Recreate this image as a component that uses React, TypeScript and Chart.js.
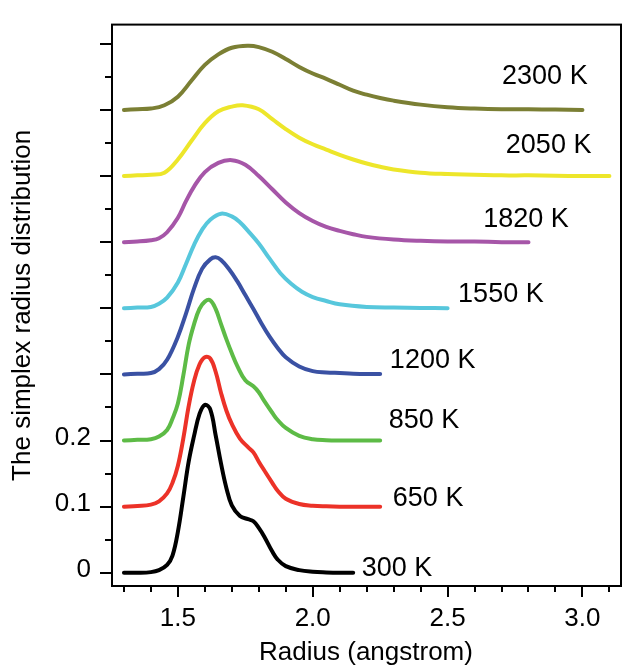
import React, { useEffect, useRef } from 'react';
import { Chart, registerables } from 'chart.js';

Chart.register(...registerables);

// ---- Data ----
const seriesNames = ['300 K', '650 K', '850 K', '1200 K', '1550 K', '1820 K', '2050 K', '2300 K'];

const r300 = [1.3, 1.35, 1.4, 1.43, 1.46, 1.48, 1.5, 1.52, 1.54, 1.56, 1.58, 1.6, 1.62, 1.64, 1.66, 1.68, 1.7, 1.73, 1.76, 1.78, 1.8, 1.82, 1.85, 1.87, 1.9, 1.95, 2.0, 2.05, 2.1, 2.15];
const d300 = [0, 0, 0.001, 0.004, 0.012, 0.026, 0.062, 0.114, 0.168, 0.207, 0.24, 0.254, 0.247, 0.208, 0.165, 0.128, 0.102, 0.086, 0.081, 0.078, 0.068, 0.055, 0.032, 0.02, 0.01, 0.004, 0.0015, 0.0005, 0, 0];

const r650 = [1.3, 1.35, 1.4, 1.43, 1.46, 1.48, 1.5, 1.52, 1.54, 1.56, 1.58, 1.6, 1.62, 1.64, 1.66, 1.68, 1.7, 1.73, 1.76, 1.78, 1.8, 1.82, 1.85, 1.87, 1.9, 1.95, 2.0, 2.05, 2.1, 2.15, 2.2, 2.25];
const d650 = [0, 0.001, 0.003, 0.008, 0.02, 0.036, 0.062, 0.103, 0.152, 0.19, 0.215, 0.226, 0.224, 0.204, 0.172, 0.145, 0.125, 0.103, 0.09, 0.082, 0.068, 0.055, 0.036, 0.024, 0.012, 0.004, 0.0015, 0.0005, 0, 0, 0, 0];

const r850 = [1.3, 1.35, 1.4, 1.43, 1.46, 1.48, 1.5, 1.52, 1.54, 1.56, 1.58, 1.6, 1.62, 1.64, 1.66, 1.68, 1.7, 1.72, 1.75, 1.78, 1.8, 1.82, 1.85, 1.87, 1.9, 1.95, 2.0, 2.05, 2.1, 2.15, 2.2, 2.25];
const d850 = [0, 0.001, 0.002, 0.006, 0.016, 0.033, 0.056, 0.098, 0.145, 0.176, 0.199, 0.21, 0.212, 0.199, 0.176, 0.153, 0.132, 0.113, 0.091, 0.082, 0.073, 0.06, 0.042, 0.031, 0.019, 0.007, 0.002, 0.0005, 0, 0, 0, 0];

const r1200 = [1.3, 1.35, 1.4, 1.43, 1.46, 1.5, 1.53, 1.56, 1.59, 1.62, 1.64, 1.66, 1.69, 1.72, 1.75, 1.78, 1.81, 1.84, 1.87, 1.9, 1.95, 2.0, 2.05, 2.1, 2.15, 2.2, 2.25];
const d1200 = [0, 0.001, 0.002, 0.008, 0.022, 0.057, 0.092, 0.13, 0.16, 0.174, 0.177, 0.173, 0.159, 0.141, 0.12, 0.099, 0.077, 0.057, 0.04, 0.026, 0.012, 0.005, 0.003, 0.002, 0.001, 0.0005, 0.0005];

const r1550 = [1.3, 1.35, 1.4, 1.43, 1.46, 1.5, 1.53, 1.56, 1.59, 1.62, 1.66, 1.7, 1.73, 1.76, 1.8, 1.84, 1.88, 1.92, 1.96, 2.0, 2.05, 2.1, 2.2, 2.3, 2.4, 2.5];
const d1550 = [0, 0.001, 0.002, 0.007, 0.016, 0.039, 0.067, 0.096, 0.119, 0.134, 0.143, 0.139, 0.13, 0.117, 0.098, 0.075, 0.053, 0.037, 0.025, 0.017, 0.011, 0.006, 0.002, 0.001, 0.0005, 0];

const r1820 = [1.3, 1.35, 1.4, 1.43, 1.46, 1.5, 1.53, 1.56, 1.6, 1.65, 1.7, 1.75, 1.8, 1.85, 1.9, 1.95, 2.0, 2.05, 2.1, 2.15, 2.2, 2.3, 2.4, 2.5, 2.6, 2.7, 2.8];
const d1820 = [0, 0.001, 0.003, 0.006, 0.015, 0.037, 0.062, 0.084, 0.106, 0.12, 0.124, 0.117, 0.1, 0.08, 0.06, 0.044, 0.032, 0.023, 0.017, 0.012, 0.008, 0.004, 0.002, 0.001, 0.001, 0, 0];

const r2050 = [1.3, 1.35, 1.4, 1.45, 1.5, 1.55, 1.6, 1.65, 1.7, 1.74, 1.8, 1.85, 1.9, 1.95, 2.0, 2.05, 2.1, 2.15, 2.2, 2.25, 2.3, 2.4, 2.5, 2.6, 2.7, 2.8, 2.9, 3.0, 3.1];
const d2050 = [0, 0.001, 0.002, 0.005, 0.025, 0.053, 0.08, 0.098, 0.105, 0.107, 0.101, 0.086, 0.071, 0.058, 0.048, 0.04, 0.032, 0.025, 0.019, 0.014, 0.01, 0.005, 0.003, 0.002, 0.001, 0.001, 0.0005, 0, 0];

const r2300 = [1.3, 1.35, 1.4, 1.45, 1.5, 1.55, 1.6, 1.65, 1.7, 1.76, 1.8, 1.85, 1.9, 1.95, 2.0, 2.05, 2.1, 2.15, 2.2, 2.25, 2.3, 2.4, 2.5, 2.6, 2.7, 2.8, 2.9, 3.0];
const d2300 = [0, 0.001, 0.002, 0.007, 0.02, 0.044, 0.068, 0.084, 0.094, 0.097, 0.095, 0.088, 0.077, 0.065, 0.055, 0.047, 0.038, 0.029, 0.023, 0.018, 0.014, 0.008, 0.004, 0.002, 0.001, 0.001, 0.0005, 0];

const radii = [r300, r650, r850, r1200, r1550, r1820, r2050, r2300];
const dists = [d300, d650, d850, d1200, d1550, d1820, d2050, d2300];
const offsetStep = 0.1; // vertical offset between stacked curves

const yLabeledTicks = [0, 0.1, 0.2];
const xLabeledTicks = [1.5, 2.0, 2.5, 3.0];

// ---- Styles / layout ----
const colors = ['#000000', '#ec3228', '#5dbb46', '#3a51a3', '#57c7dc', '#a656a8', '#ede62a', '#7b7f34'];
const labelPos = [
  [2.182, 0.006],
  [2.297, 0.113],
  [2.282, 0.23],
  [2.286, 0.321],
  [2.539, 0.421],
  [2.632, 0.534],
  [2.716, 0.646],
  [2.702, 0.75],
];
const FONT = '"Liberation Sans", Arial, Helvetica, sans-serif';

const framePlugin = {
  id: 'frameAndTicks',
  afterDraw(chart: any) {
    const { ctx, chartArea: a, scales } = chart;
    const x = scales.x;
    const y = scales.y;
    ctx.save();
    ctx.strokeStyle = '#000';
    ctx.lineWidth = 2;
    ctx.strokeRect(a.left + 1, a.top, a.right - a.left - 1, a.bottom - a.top);
    ctx.beginPath();
    y.ticks.forEach((t: any) => {
      const v = Math.round(t.value * 100);
      const major = v % 10 === 0;
      const py = Math.round(y.getPixelForValue(t.value));
      ctx.moveTo(a.left - (major ? 11 : 6), py);
      ctx.lineTo(a.left, py);
    });
    x.ticks.forEach((t: any) => {
      const v = Math.round(t.value * 10);
      const major = v % 5 === 0;
      const px = Math.round(x.getPixelForValue(t.value));
      ctx.moveTo(px, a.bottom);
      ctx.lineTo(px, a.bottom + (major ? 11 : 6));
    });
    ctx.stroke();
    ctx.font = `27px ${FONT}`;
    ctx.fillStyle = '#000';
    ctx.textAlign = 'left';
    ctx.textBaseline = 'middle';
    seriesNames.forEach((name, i) => {
      ctx.fillText(name, x.getPixelForValue(labelPos[i][0]), y.getPixelForValue(labelPos[i][1]));
    });
    ctx.restore();
  },
};

export default function App() {
  const ref = useRef<HTMLCanvasElement>(null);
  useEffect(() => {
    if (!ref.current) return;
    const datasets = seriesNames.map((name, i) => ({
      label: name,
      data: radii[i].map((r, j) => ({ x: r, y: dists[i][j] + i * offsetStep })),
      borderColor: colors[i],
      backgroundColor: colors[i],
      borderWidth: 4,
      borderCapStyle: 'round',
      borderJoinStyle: 'round',
      pointRadius: 0,
      fill: false,
      tension: 0.4,
    }));
    const chart = new Chart(ref.current, {
      type: 'line',
      data: { datasets } as any,
      options: {
        animation: false,
        responsive: true,
        maintainAspectRatio: false,
        layout: { padding: { top: 14, right: 1, left: 0, bottom: 0 } },
        plugins: { legend: { display: false }, tooltip: { enabled: false } },
        scales: {
          x: {
            type: 'linear',
            min: 1.252,
            max: 3.143,
            grid: { display: false, drawTicks: true, tickLength: 11 },
            border: { display: false },
            ticks: {
              stepSize: 0.1,
              includeBounds: false,
              autoSkip: false,
              maxRotation: 0,
              padding: 6,
              color: '#000',
              font: { family: FONT, size: 26 },
              callback: (v: any) => {
                const n = Math.round(Number(v) * 10) / 10;
                return xLabeledTicks.some((t) => Math.abs(t - n) < 1e-6) ? n.toFixed(1) : '';
              },
            },
            title: {
              display: true,
              text: 'Radius (angstrom)',
              color: '#000',
              font: { family: FONT, size: 26 },
              padding: { top: 0, bottom: 0 },
            },
            afterFit: (s: any) => {
              s.height = 82;
            },
          },
          y: {
            type: 'linear',
            min: -0.02,
            max: 0.829,
            grid: { display: false, drawTicks: true, tickLength: 11 },
            border: { display: false },
            ticks: {
              stepSize: 0.05,
              includeBounds: false,
              autoSkip: false,
              padding: 9,
              labelOffset: -3,
              color: '#000',
              font: { family: FONT, size: 26 },
              callback: (v: any) => {
                const n = Math.round(Number(v) * 100) / 100;
                return yLabeledTicks.some((t) => Math.abs(t - n) < 1e-6) ? String(n) : '';
              },
            },
            title: {
              display: true,
              text: 'The simplex radius distribution',
              color: '#000',
              font: { family: FONT, size: 26 },
              padding: { top: 7, bottom: 0 },
            },
            afterFit: (s: any) => {
              s.width = 111;
            },
          },
        },
      },
      plugins: [framePlugin],
    } as any);
    return () => chart.destroy();
  }, []);
  return (
    <div style={{ position: 'fixed', left: 0, top: 0, width: 622, height: 668, background: '#fff' }}>
      <canvas ref={ref} />
    </div>
  );
}
